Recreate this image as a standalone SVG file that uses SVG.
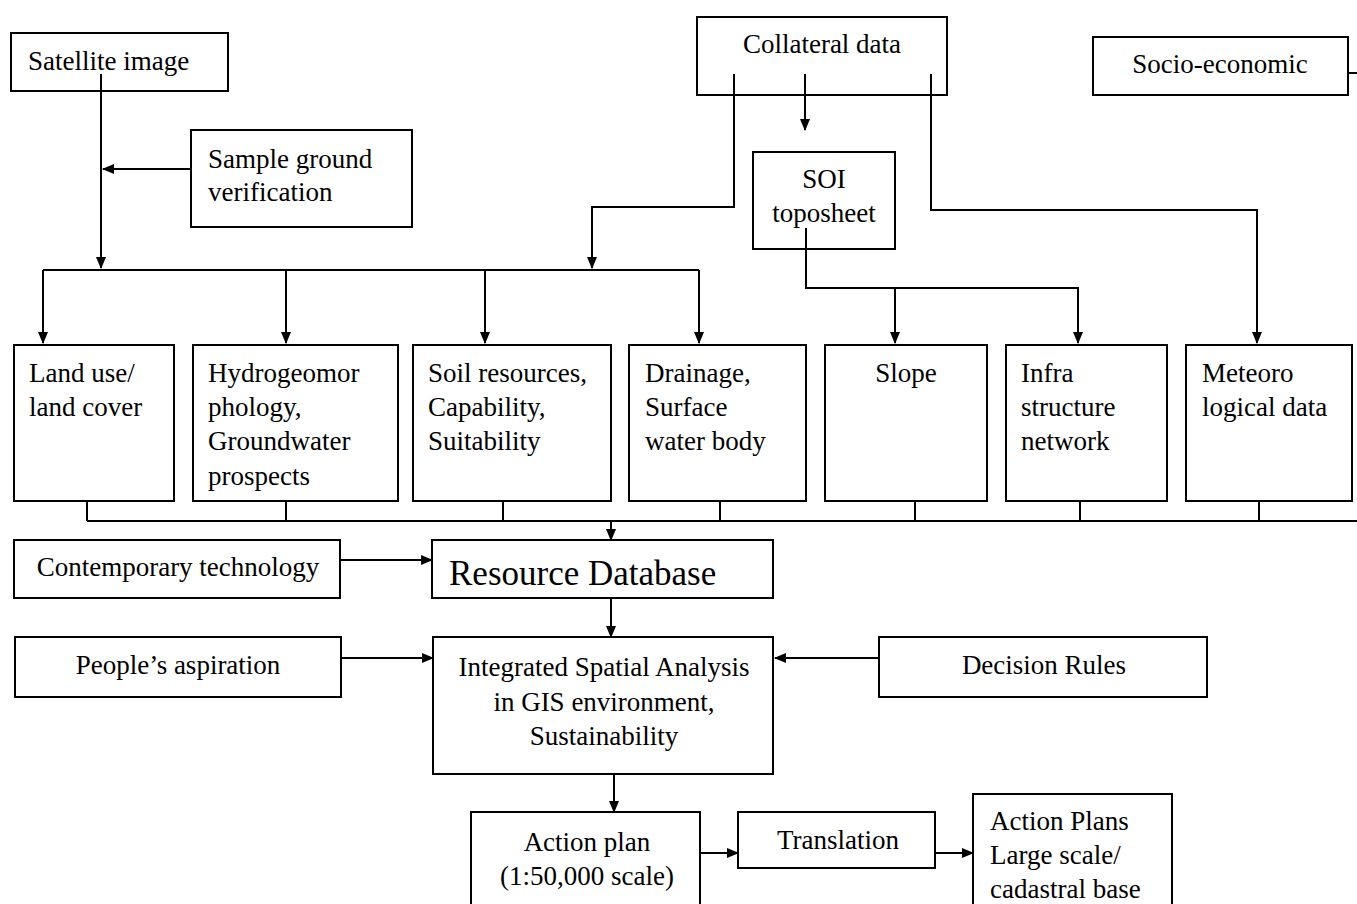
<svg xmlns="http://www.w3.org/2000/svg" width="1357" height="904" viewBox="0 0 1357 904">
<style>
.box{fill:none;stroke:#000;stroke-width:2}
.t{font-family:"Liberation Serif","Times New Roman",serif;font-size:27px;fill:#000}
.c{text-anchor:middle}
.ln{fill:none;stroke:#000;stroke-width:2}
.ar{fill:none;stroke:#000;stroke-width:2;marker-end:url(#ah)}
</style>
<defs>
<marker id="ah" markerUnits="userSpaceOnUse" markerWidth="12" markerHeight="10" refX="11" refY="5" orient="auto">
<path d="M0,0 L12,5 L0,10 Z" fill="#000"/>
</marker>
</defs>
<rect width="1357" height="904" fill="#fff"/>
<g id="connectors">
<path class="ar" d="M101,74 V268"/>
<path class="ar" d="M191,169 H103"/>
<path class="ar" d="M734,74 V207 H592 V268"/>
<path class="ar" d="M805,74 V130"/>
<path class="ar" d="M806,228 V288 H1078 V343"/>
<path class="ar" d="M895,288 V343"/>
<path class="ar" d="M931,74 V210 H1257 V343"/>
<path class="ln" d="M1348,73 H1357"/>
<path class="ln" d="M43,270 H699"/>
<path class="ar" d="M43,270 V343"/>
<path class="ar" d="M286,270 V343"/>
<path class="ar" d="M485,270 V343"/>
<path class="ar" d="M699,270 V343"/>
<path class="ln" d="M87,501 V521 M286,501 V521 M503,501 V521 M720,501 V521 M915,501 V521 M1080,501 V521 M1259,501 V521 M87,521 H1357"/>
<path class="ar" d="M611,521 V540"/>
<path class="ar" d="M340,560 H432"/>
<path class="ar" d="M611,598 V637"/>
<path class="ar" d="M341,658 H433"/>
<path class="ar" d="M879,658 H775"/>
<path class="ar" d="M614,774 V812"/>
<path class="ar" d="M700,853 H738"/>
<path class="ar" d="M935,853 H973"/>
</g>
<g id="satellite"><rect class="box" x="11" y="33" width="217" height="58"/><text class="t" x="28" y="70">Satellite image</text></g>
<g id="sample"><rect class="box" x="191" y="130" width="221" height="97"/><text class="t" x="208" y="168">Sample ground</text><text class="t" x="208" y="201">verification</text></g>
<g id="collateral"><rect class="box" x="697" y="17" width="250" height="78"/><text class="t c" x="822" y="53">Collateral data</text></g>
<g id="socio"><rect class="box" x="1093" y="37" width="255" height="58"/><text class="t c" x="1220" y="73">Socio-economic</text></g>
<g id="soi"><rect class="box" x="753" y="152" width="142" height="97"/><text class="t c" x="824" y="188">SOI</text><text class="t c" x="824" y="222">toposheet</text></g>
<g id="landuse"><rect class="box" x="14" y="345" width="160" height="156"/><text class="t" x="29" y="382">Land use/</text><text class="t" x="29" y="416">land cover</text></g>
<g id="hydro"><rect class="box" x="193" y="345" width="205" height="156"/><text class="t" x="208" y="382">Hydrogeomor</text><text class="t" x="208" y="416">phology,</text><text class="t" x="208" y="450">Groundwater</text><text class="t" x="208" y="485">prospects</text></g>
<g id="soil"><rect class="box" x="413" y="345" width="198" height="156"/><text class="t" x="428" y="382">Soil resources,</text><text class="t" x="428" y="416">Capability,</text><text class="t" x="428" y="450">Suitability</text></g>
<g id="drainage"><rect class="box" x="629" y="345" width="177" height="156"/><text class="t" x="645" y="382">Drainage,</text><text class="t" x="645" y="416">Surface</text><text class="t" x="645" y="450">water body</text></g>
<g id="slope"><rect class="box" x="825" y="345" width="162" height="156"/><text class="t c" x="906" y="382">Slope</text></g>
<g id="infra"><rect class="box" x="1006" y="345" width="161" height="156"/><text class="t" x="1021" y="382">Infra</text><text class="t" x="1021" y="416">structure</text><text class="t" x="1021" y="450">network</text></g>
<g id="meteoro"><rect class="box" x="1186" y="345" width="166" height="156"/><text class="t" x="1202" y="382">Meteoro</text><text class="t" x="1202" y="416">logical data</text></g>
<g id="contemporary"><rect class="box" x="14" y="540" width="326" height="58"/><text class="t c" x="178" y="576">Contemporary technology</text></g>
<g id="resource"><rect class="box" x="432" y="540" width="341" height="58"/><text class="t" x="449" y="585" style="font-size:35px">Resource Database</text></g>
<g id="people"><rect class="box" x="15" y="637" width="326" height="60"/><text class="t c" x="178" y="674">People’s aspiration</text></g>
<g id="integrated"><rect class="box" x="433" y="637" width="340" height="137"/><text class="t c" x="604" y="676">Integrated Spatial Analysis</text><text class="t c" x="604" y="711">in GIS environment,</text><text class="t c" x="604" y="745">Sustainability</text></g>
<g id="decision"><rect class="box" x="879" y="637" width="328" height="60"/><text class="t c" x="1044" y="674">Decision Rules</text></g>
<g id="actionplan"><rect class="box" x="471" y="812" width="229" height="100"/><text class="t c" x="587" y="851">Action plan</text><text class="t c" x="587" y="885">(1:50,000 scale)</text></g>
<g id="translation"><rect class="box" x="738" y="812" width="197" height="56"/><text class="t c" x="838" y="849">Translation</text></g>
<g id="actionplans"><rect class="box" x="973" y="794" width="199" height="118"/><text class="t" x="990" y="830">Action Plans</text><text class="t" x="990" y="864">Large scale/</text><text class="t" x="990" y="898">cadastral base</text></g>
</svg>
